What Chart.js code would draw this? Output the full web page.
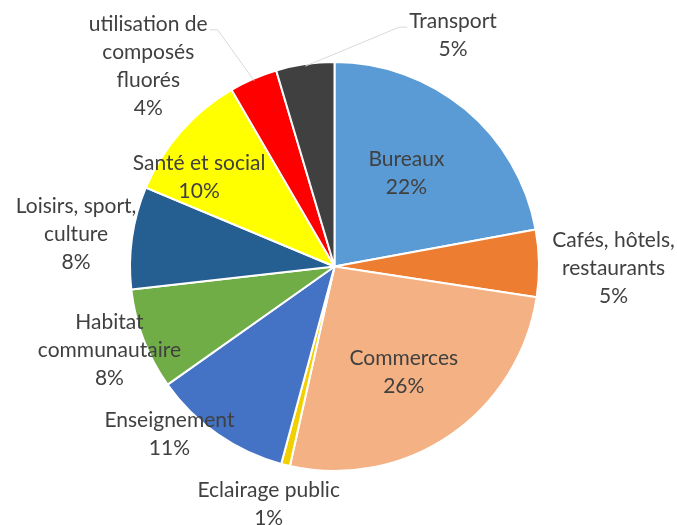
<!DOCTYPE html>
<html>
<head>
<meta charset="utf-8">
<script src="https://cdn.jsdelivr.net/npm/chart.js@4/dist/chart.umd.min.js"></script>
<style>
html,body{margin:0;padding:0;background:#fff;}
#wrap{width:677px;height:525px;}
</style>
</head>
<body>
<div id="wrap"><canvas id="c" width="677" height="525"></canvas></div>
<script>
const categories = [
  "Bureaux",
  "Cafés, hôtels,\nrestaurants",
  "Commerces",
  "Eclairage public",
  "Enseignement",
  "Habitat\ncommunautaire",
  "Loisirs, sport,\nculture",
  "Santé et social",
  "utilisation de\ncomposés\nfluorés",
  "Transport"
];
const shares = [22.1, 5.3, 26.1, 0.7, 11.0, 8.0, 8.1, 10.3, 3.8, 4.6];
const colors = ["#5B9BD5","#ED7D31","#F4B183","#F2D000","#4472C4","#70AD47","#255E91","#FFFF00","#FF0000","#404040"];

// label placement: radial factor of the outer radius + pixel shift
const labelPlace = [
  {f:0.55, ox:0,   oy:-7},
  {f:1.35, ox:3,   oy:6},
  {f:0.60, ox:0,   oy:4},
  {f:1.18, ox:-8,  oy:3},
  {f:1.00, ox:-48, oy:0},
  {f:1.00, ox:-34, oy:11},
  {f:1.00, ox:-56, oy:-3},
  {f:0.75, ox:-20, oy:12},
  {f:1.00, ox:-105,oy:-13},
  {f:1.00, ox:148, oy:-29}
];
const leaders = {8:true, 9:true};

const labelPlugin = {
  id:'labels',
  afterDatasetsDraw(chart){
    const ctx = chart.ctx;
    const meta = chart.getDatasetMeta(0);
    const total = shares.reduce((a,b)=>a+b,0);
    const lh = 28;
    ctx.save();
    ctx.font = '21px Lato';
    ctx.textAlign = 'center';
    ctx.textBaseline = 'middle';
    meta.data.forEach((arc,i)=>{
      const p = arc.getProps(['x','y','startAngle','endAngle','outerRadius'], true);
      const mid = (p.startAngle + p.endAngle)/2;
      const L = labelPlace[i];
      const r = p.outerRadius * L.f;
      const cx = p.x + Math.cos(mid)*r + L.ox;
      const cy = p.y + Math.sin(mid)*r + L.oy;
      const lines = categories[i].split('\n');
      lines.push(Math.round(shares[i]/total*100) + '%');
      const top = cy - (lines.length-1)*lh/2;
      if (leaders[i]) {
        const ex = p.x + Math.cos(mid)*p.outerRadius*0.99;
        const ey = p.y + Math.sin(mid)*p.outerRadius*0.99;
        ctx.strokeStyle = '#D9D9D9';
        ctx.lineWidth = 1;
        const w = ctx.measureText(lines[0]).width;
        let sx, sy = top + 6;
        if (ex > cx) { sx = cx + w/2 + 2; } else { sx = cx - w/2 - 2; }
        const kx = sx + (ex > cx ? 8 : -8);
        ctx.beginPath();
        ctx.moveTo(sx, sy);
        ctx.lineTo(kx, sy);
        ctx.lineTo(ex, ey);
        ctx.stroke();
      }
      ctx.fillStyle = '#404040';
      lines.forEach((t,k)=>ctx.fillText(t, cx, top + k*lh));
    });
    ctx.restore();
  }
};

new Chart(document.getElementById('c'), {
  type:'pie',
  data:{
    labels: categories,
    datasets:[{
      data: shares,
      backgroundColor: colors,
      borderColor:'#FFFFFF',
      borderWidth:2
    }]
  },
  options:{
    responsive:false,
    animation:false,
    layout:{padding:{top:61,bottom:53,left:128.5,right:136.5}},
    plugins:{legend:{display:false}, tooltip:{enabled:false}}
  },
  plugins:[labelPlugin]
});
</script>
</body>
</html>
